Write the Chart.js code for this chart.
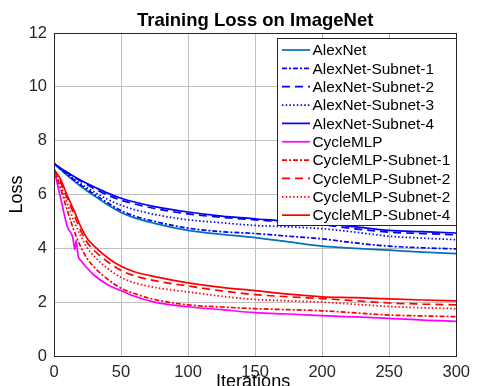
<!DOCTYPE html>
<html>
<head>
<meta charset="utf-8">
<script src="https://cdn.jsdelivr.net/npm/chart.js@4/dist/chart.umd.min.js"></script>
<style>
  html, body { margin: 0; padding: 0; background: #fff; }
  #wrap { width: 477px; height: 386px; }
</style>
</head>
<body>
<div id="wrap"><canvas id="c" width="477" height="386"></canvas></div>
<script>
// ---- Data ----
const chartTitle = 'Training Loss on ImageNet';
const xTitle = 'Iterations';
const yTitle = 'Loss';

const iterations = [0, 5, 10, 15, 20, 25, 30, 40, 50, 60, 75, 100, 125, 150, 175, 200, 225, 250, 275, 300];

const alexNet        = [7.15, 6.92, 6.70, 6.50, 6.30, 6.12, 5.95, 5.62, 5.33, 5.13, 4.93, 4.67, 4.52, 4.40, 4.24, 4.08, 4.00, 3.93, 3.86, 3.80];
const alexSubnet1    = [7.15, 6.94, 6.74, 6.54, 6.35, 6.18, 6.01, 5.69, 5.40, 5.20, 5.00, 4.75, 4.62, 4.55, 4.45, 4.35, 4.20, 4.08, 4.02, 3.98];
const alexSubnet2    = [7.15, 6.97, 6.80, 6.64, 6.49, 6.35, 6.22, 5.98, 5.79, 5.65, 5.48, 5.28, 5.15, 5.06, 4.96, 4.88, 4.72, 4.60, 4.55, 4.50];
const alexSubnet3    = [7.15, 6.94, 6.75, 6.57, 6.40, 6.24, 6.09, 5.82, 5.60, 5.44, 5.26, 5.06, 4.95, 4.85, 4.80, 4.73, 4.60, 4.45, 4.38, 4.32];
const alexSubnet4    = [7.15, 6.98, 6.82, 6.67, 6.53, 6.40, 6.28, 6.05, 5.86, 5.72, 5.55, 5.35, 5.20, 5.10, 5.00, 4.93, 4.80, 4.67, 4.62, 4.57];

const cycleIterations = [0, 5, 10, 14, 15.5, 16.5, 18, 20, 25, 30, 40, 50, 60, 75, 100, 125, 150, 175, 200, 225, 250, 275, 300];
const cycleMLP        = [6.94, 5.85, 4.80, 4.40, 3.95, 4.30, 3.72, 3.55, 3.25, 3.00, 2.65, 2.43, 2.22, 2.00, 1.83, 1.72, 1.61, 1.56, 1.50, 1.45, 1.40, 1.33, 1.29];

const cycleSubnet1   = [6.94, 6.20, 5.40, 4.65, 4.05, 3.60, 3.30, 2.85, 2.52, 2.32, 2.10, 1.90, 1.82, 1.76, 1.72, 1.68, 1.60, 1.52, 1.49, 1.46];
const cycleSubnet2a  = [6.94, 6.45, 5.85, 5.25, 4.65, 4.20, 3.92, 3.50, 3.18, 2.98, 2.80, 2.60, 2.42, 2.28, 2.20, 2.13, 2.05, 1.97, 1.93, 1.90];
const cycleSubnet2b  = [6.94, 6.35, 5.65, 5.00, 4.45, 4.00, 3.70, 3.25, 2.92, 2.72, 2.55, 2.38, 2.22, 2.10, 2.05, 2.00, 1.92, 1.84, 1.79, 1.76];
const cycleSubnet4   = [6.94, 6.55, 5.95, 5.40, 4.80, 4.35, 4.08, 3.65, 3.33, 3.13, 2.95, 2.72, 2.55, 2.43, 2.30, 2.20, 2.17, 2.12, 2.08, 2.05];

const seriesLabels = ['AlexNet', 'AlexNet-Subnet-1', 'AlexNet-Subnet-2', 'AlexNet-Subnet-3', 'AlexNet-Subnet-4',
                      'CycleMLP', 'CycleMLP-Subnet-1', 'CycleMLP-Subnet-2', 'CycleMLP-Subnet-2', 'CycleMLP-Subnet-4'];

// ---- Styling ----
const DASHED = [8, 5];
const DASHDOT = [5, 2, 2, 2];
const DOTTED = [1.5, 2.2];
const SOLID = [];
const FONT = '"Liberation Sans", Arial, Helvetica, sans-serif';
const INK = '#262626';

function pts(xs, ys) { return ys.map((y, i) => ({ x: xs[i], y: y })); }

const specs = [
  [iterations, alexNet, 'rgb(0,114,189)', SOLID],
  [iterations, alexSubnet1, '#0000ff', DASHDOT],
  [iterations, alexSubnet2, '#0000ff', DASHED],
  [iterations, alexSubnet3, '#0000ff', DOTTED],
  [iterations, alexSubnet4, '#0000ff', SOLID],
  [cycleIterations, cycleMLP, '#ff00ff', SOLID],
  [iterations, cycleSubnet1, '#ff0000', DASHDOT],
  [iterations, cycleSubnet2a, '#ff0000', DASHED],
  [iterations, cycleSubnet2b, '#ff0000', DOTTED],
  [iterations, cycleSubnet4, '#ff0000', SOLID]
];

const datasets = specs.map((s, i) => ({
  label: seriesLabels[i],
  data: pts(s[0], s[1]),
  borderColor: s[2],
  backgroundColor: s[2],
  borderDash: s[3],
  borderWidth: 1.7,
  pointRadius: 0,
  fill: false,
  cubicInterpolationMode: 'monotone',
  order: specs.length - i
}));

// Box around plot area, titles and legend (MATLAB style)
const matlabDecor = {
  id: 'matlabDecor',
  afterDraw(chart) {
    const ctx = chart.ctx;
    const a = chart.chartArea;
    const cx = (a.left + a.right) / 2;
    ctx.save();
    // box
    ctx.strokeStyle = INK;
    ctx.lineWidth = 1;
    ctx.setLineDash([]);
    ctx.strokeRect(Math.round(a.left) + 0.5, Math.round(a.top) + 0.5,
                   Math.round(a.right - a.left), Math.round(a.bottom - a.top));
    // chart title
    ctx.fillStyle = '#000';
    ctx.textAlign = 'center';
    ctx.textBaseline = 'alphabetic';
    ctx.font = 'bold 18.5px ' + FONT;
    ctx.fillText(chartTitle, cx, 26);
    // axis titles
    ctx.font = '18px ' + FONT;
    ctx.fillText(xTitle, cx - 2, chart.height + 0.5);
    ctx.save();
    ctx.translate(22, (a.top + a.bottom) / 2);
    ctx.rotate(-Math.PI / 2);
    ctx.fillText(yTitle, 0, 0);
    ctx.restore();

    // legend
    const lx = 277.5, ly = 38.5, lw = 179, lh = 187;
    ctx.fillStyle = '#fff';
    ctx.fillRect(lx, ly, lw, lh);
    ctx.strokeStyle = INK;
    ctx.lineWidth = 1;
    ctx.strokeRect(lx, ly, lw, lh);
    ctx.font = '15.4px ' + FONT;
    ctx.textAlign = 'left';
    ctx.textBaseline = 'middle';
    chart.data.datasets.forEach((ds, i) => {
      const cy = 50 + i * 18.35;
      ctx.strokeStyle = ds.borderColor;
      ctx.lineWidth = 1.7;
      ctx.setLineDash(ds.borderDash);
      ctx.beginPath();
      ctx.moveTo(282, cy);
      ctx.lineTo(310, cy);
      ctx.stroke();
      ctx.setLineDash([]);
      ctx.fillStyle = '#000';
      ctx.fillText(ds.label, 312.5, cy + 1);
    });
    ctx.restore();
  }
};

new Chart(document.getElementById('c'), {
  type: 'line',
  data: { datasets: datasets },
  options: {
    responsive: false,
    animation: false,
    devicePixelRatio: 1,
    layout: { padding: { left: 0, right: 14, top: 33, bottom: 0 } },
    plugins: {
      legend: { display: false },
      tooltip: { enabled: false },
      title: { display: false }
    },
    scales: {
      x: {
        type: 'linear',
        min: 0, max: 300,
        ticks: { stepSize: 50, color: INK, padding: 7, font: { family: FONT, size: 16.5 }, maxRotation: 0 },
        grid: { color: '#c0c0c0', lineWidth: 1, drawTicks: false },
        border: { display: false },
        afterFit(scale) { scale.height = 30; }
      },
      y: {
        min: 0, max: 12,
        ticks: { stepSize: 2, color: INK, padding: 7, font: { family: FONT, size: 16.5 } },
        grid: { color: '#c0c0c0', lineWidth: 1, drawTicks: false },
        border: { display: false },
        afterFit(scale) { scale.width = 54; }
      }
    }
  },
  plugins: [matlabDecor]
});
</script>
</body>
</html>
